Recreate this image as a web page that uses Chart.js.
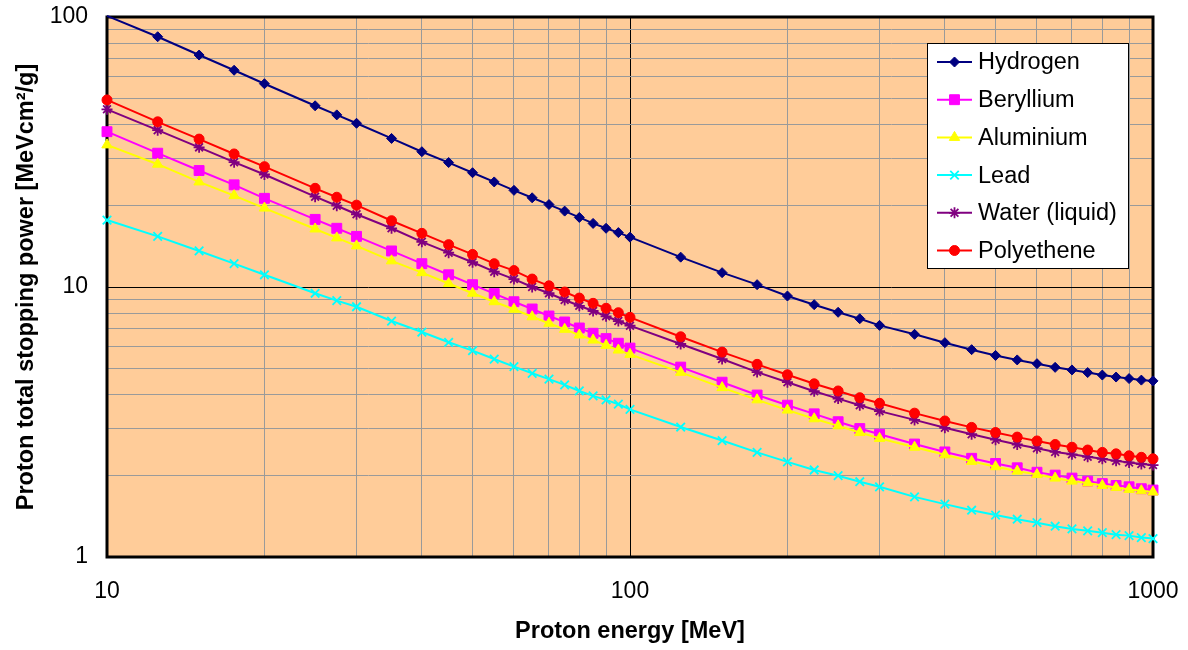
<!DOCTYPE html>
<html lang="en">
<head>
  <meta charset="UTF-8" />
  <title>Proton total stopping power</title>
  <style>
    body { margin: 0; background: #fff; }
    #wrap { width: 1188px; height: 650px; }
  </style>
</head>
<body>
  <div id="wrap"><canvas id="stopChart" width="1188" height="650"></canvas></div>

  <script src="https://cdn.jsdelivr.net/npm/chart.js@4.4.1/dist/chart.umd.min.js"></script>
  <script>
    // Proton energy [MeV]
    const energies = [10, 12.5, 15, 17.5, 20, 25, 27.5, 30, 35, 40, 45, 50, 55, 60, 65, 70, 75, 80, 85, 90, 95,
      100, 125, 150, 175, 200, 225, 250, 275, 300, 350, 400, 450, 500, 550, 600, 650, 700, 750, 800, 850, 900, 950, 1000];

    // Total stopping power [MeV cm2/g]
    const hydrogen = [101, 84.5, 72.3, 63.5, 56.6, 46.9, 43.4, 40.4, 35.5, 31.7, 28.9, 26.5, 24.5, 22.8, 21.4, 20.2,
      19.1, 18.1, 17.2, 16.5, 15.9, 15.3, 12.9, 11.3, 10.2, 9.26, 8.6, 8.06, 7.63, 7.21, 6.68, 6.22, 5.86, 5.58,
      5.37, 5.2, 5.04, 4.93, 4.82, 4.72, 4.64, 4.58, 4.52, 4.49];
    const beryllium = [37.6, 31.3, 27.0, 23.9, 21.3, 17.8, 16.5, 15.4, 13.6, 12.2, 11.1, 10.2, 9.45, 8.82, 8.29, 7.81,
      7.42, 7.05, 6.74, 6.44, 6.19, 5.94, 5.05, 4.44, 3.98, 3.65, 3.39, 3.17, 2.99, 2.85, 2.62, 2.45, 2.32, 2.22,
      2.14, 2.06, 2.01, 1.96, 1.91, 1.87, 1.84, 1.82, 1.79, 1.77];
    const aluminium = [33.6, 28.5, 24.5, 21.8, 19.6, 16.4, 15.2, 14.2, 12.5, 11.3, 10.3, 9.48, 8.82, 8.27, 7.76, 7.34,
      6.97, 6.64, 6.36, 6.08, 5.84, 5.63, 4.83, 4.24, 3.82, 3.5, 3.25, 3.06, 2.89, 2.75, 2.55, 2.39, 2.26, 2.16,
      2.08, 2.02, 1.96, 1.91, 1.88, 1.84, 1.81, 1.78, 1.76, 1.74];
    const lead = [17.7, 15.4, 13.6, 12.2, 11.1, 9.48, 8.9, 8.45, 7.48, 6.81, 6.24, 5.81, 5.41, 5.07, 4.79, 4.56,
      4.34, 4.12, 3.95, 3.82, 3.68, 3.52, 3.03, 2.7, 2.44, 2.25, 2.1, 2.0, 1.9, 1.82, 1.67, 1.57, 1.49, 1.43,
      1.38, 1.34, 1.3, 1.27, 1.25, 1.23, 1.21, 1.2, 1.18, 1.17];
    const water = [45.5, 38.1, 32.9, 29.0, 26.1, 21.6, 20.0, 18.6, 16.5, 14.7, 13.4, 12.35, 11.4, 10.7, 10.0, 9.48,
      8.95, 8.52, 8.15, 7.79, 7.48, 7.19, 6.15, 5.41, 4.84, 4.44, 4.11, 3.86, 3.65, 3.47, 3.22, 3.01, 2.85, 2.72,
      2.61, 2.53, 2.45, 2.4, 2.35, 2.31, 2.27, 2.24, 2.21, 2.19];
    const polyethene = [49.3, 40.9, 35.3, 31.1, 27.9, 23.2, 21.5, 20.1, 17.6, 15.8, 14.35, 13.2, 12.2, 11.5, 10.7, 10.1,
      9.58, 9.1, 8.7, 8.34, 8.03, 7.72, 6.54, 5.74, 5.17, 4.73, 4.38, 4.12, 3.89, 3.71, 3.41, 3.19, 3.02, 2.89,
      2.78, 2.69, 2.61, 2.55, 2.49, 2.44, 2.41, 2.37, 2.34, 2.31];

    const seriesNames = ['Hydrogen', 'Beryllium', 'Aluminium', 'Lead', 'Water (liquid)', 'Polyethene'];
    const seriesValues = [hydrogen, beryllium, aluminium, lead, water, polyethene];

    // axis ticks (gridlines at every 1..9 x decade, labels only on decades)
    const xTicks = [10, 20, 30, 40, 50, 60, 70, 80, 90, 100, 200, 300, 400, 500, 600, 700, 800, 900, 1000];
    const yTicks = [1, 2, 3, 4, 5, 6, 7, 8, 9, 10, 20, 30, 40, 50, 60, 70, 80, 90, 100];
    const xTickLabels = ['10', '100', '1000'];
    const yTickLabels = ['1', '10', '100'];

    // styles
    const seriesColors = ['#000080', '#FF00FF', '#FFFF00', '#00FFFF', '#800080', '#FF0000'];
    const seriesMarkers = [
      { style: 'rectRot', r: 5, bw: 1 },
      { style: 'rect', r: 7, bw: 1 },
      { style: 'triangle', r: 6, bw: 1 },
      { style: 'crossRot', r: 6, bw: 1.8 },
      { style: 'star', r: 5.5, bw: 1.8 },
      { style: 'circle', r: 5, bw: 1 }
    ];

    const FONT = 'Arial, "Liberation Sans", sans-serif';
    const X_MIN = 10, X_MAX = 1000, Y_MIN = 1, Y_MAX = 100;

    function isDecade(v) {
      const l = Math.log10(v);
      return Math.abs(l - Math.round(l)) < 1e-9;
    }

    // no extra room for half tick labels, the layout padding handles it
    function noScalePadding(s) {
      s.paddingLeft = 0;
      s.paddingRight = 0;
      s.paddingTop = 0;
      s.paddingBottom = 0;
    }

    const datasets = seriesNames.map((name, i) => {
      const m = seriesMarkers[i];
      return {
        label: name,
        data: energies.map((e, k) => ({ x: e, y: seriesValues[i][k] })),
        borderColor: seriesColors[i],
        backgroundColor: seriesColors[i],
        borderWidth: 2,
        pointStyle: m.style,
        pointRadius: ctx => (ctx.raw && ctx.raw.y > Y_MAX ? 0 : m.r),
        pointBackgroundColor: seriesColors[i],
        pointBorderColor: seriesColors[i],
        pointBorderWidth: m.bw,
        pointHoverRadius: m.r,
        tension: 0,
        fill: false,
        clip: false,
        order: seriesNames.length - i
      };
    });

    // orange plot area with a heavy black frame
    const plotBackground = {
      id: 'plotBackground',
      beforeDraw(chart) {
        const { ctx, chartArea: a } = chart;
        ctx.save();
        ctx.fillStyle = '#FFCC99';
        ctx.fillRect(a.left, a.top, a.right - a.left, a.bottom - a.top);
        ctx.restore();
      },
      beforeDatasetsDraw(chart) {
        const { ctx, chartArea: a } = chart;
        ctx.save();
        ctx.strokeStyle = '#000';
        ctx.lineWidth = 3;
        ctx.strokeRect(a.left, a.top, a.right - a.left, a.bottom - a.top);
        ctx.restore();
      }
    };

    // boxed legend inside the plot, top right
    const boxLegend = {
      id: 'boxLegend',
      afterDraw(chart) {
        const { ctx, chartArea: a } = chart;
        const bx = a.right - 226, by = a.top + 26, bw = 201, bh = 225;
        ctx.save();
        ctx.fillStyle = '#fff';
        ctx.fillRect(bx, by, bw, bh);
        ctx.strokeStyle = '#000';
        ctx.lineWidth = 1;
        ctx.strokeRect(bx + 0.5, by + 0.5, bw, bh);
        chart.data.datasets.forEach((ds, i) => {
          const y = by + 19 + i * 37.7;
          ctx.strokeStyle = ds.borderColor;
          ctx.lineWidth = ds.borderWidth;
          ctx.beginPath();
          ctx.moveTo(bx + 10, y);
          ctx.lineTo(bx + 45, y);
          ctx.stroke();
          const m = seriesMarkers[i];
          ctx.fillStyle = ds.pointBackgroundColor;
          ctx.strokeStyle = ds.pointBorderColor;
          ctx.lineWidth = m.bw;
          if (Chart.helpers && Chart.helpers.drawPoint) {
            Chart.helpers.drawPoint(ctx, { pointStyle: m.style, radius: m.r, rotation: 0, borderWidth: m.bw }, bx + 27.5, y);
          }
          ctx.fillStyle = '#000';
          ctx.font = '23.5px ' + FONT;
          ctx.textAlign = 'left';
          ctx.textBaseline = 'middle';
          ctx.fillText(ds.label, bx + 51, y + 1);
        });
        ctx.restore();
      }
    };

    const ctx = document.getElementById('stopChart').getContext('2d');
    const stopChart = new Chart(ctx, {
      type: 'line',
      data: { datasets: datasets },
      options: {
        responsive: false,
        animation: false,
        layout: { padding: { left: 0, right: 35, top: 17, bottom: 0 } },
        plugins: {
          legend: { display: false },
          tooltip: { enabled: false }
        },
        scales: {
          x: {
            type: 'logarithmic',
            min: X_MIN,
            max: X_MAX,
            afterBuildTicks: s => { s.ticks = xTicks.map(v => ({ value: v })); },
            afterFit: s => { s.height = 93; noScalePadding(s); },
            ticks: {
              autoSkip: false,
              maxRotation: 0,
              padding: 21,
              color: '#000',
              font: { family: FONT, size: 23 },
              callback: v => (xTickLabels.includes(String(v)) ? String(v) : '')
            },
            grid: {
              color: c => (c.tick && isDecade(c.tick.value) ? '#000' : '#9a9a9a'),
              lineWidth: 1,
              drawTicks: false
            },
            border: { display: false },
            title: {
              display: true,
              text: 'Proton energy [MeV]',
              color: '#000',
              font: { family: FONT, size: 23.5, weight: 'bold' },
              padding: { top: 0, bottom: 4 }
            }
          },
          y: {
            type: 'logarithmic',
            min: Y_MIN,
            max: Y_MAX,
            afterBuildTicks: s => { s.ticks = yTicks.map(v => ({ value: v })); },
            afterFit: s => { s.width = 107; noScalePadding(s); },
            ticks: {
              autoSkip: false,
              padding: 19,
              color: '#000',
              font: { family: FONT, size: 23 },
              callback: v => (yTickLabels.includes(String(v)) ? String(v) : '')
            },
            grid: {
              color: c => (c.tick && isDecade(c.tick.value) ? '#000' : '#9a9a9a'),
              lineWidth: 1,
              drawTicks: false
            },
            border: { display: false },
            title: {
              display: true,
              text: 'Proton total stopping power [MeVcm²/g]',
              color: '#000',
              font: { family: FONT, size: 23.5, weight: 'bold' },
              padding: { top: 12, bottom: 0 }
            }
          }
        }
      },
      plugins: [plotBackground, boxLegend]
    });
  </script>
</body>
</html>
